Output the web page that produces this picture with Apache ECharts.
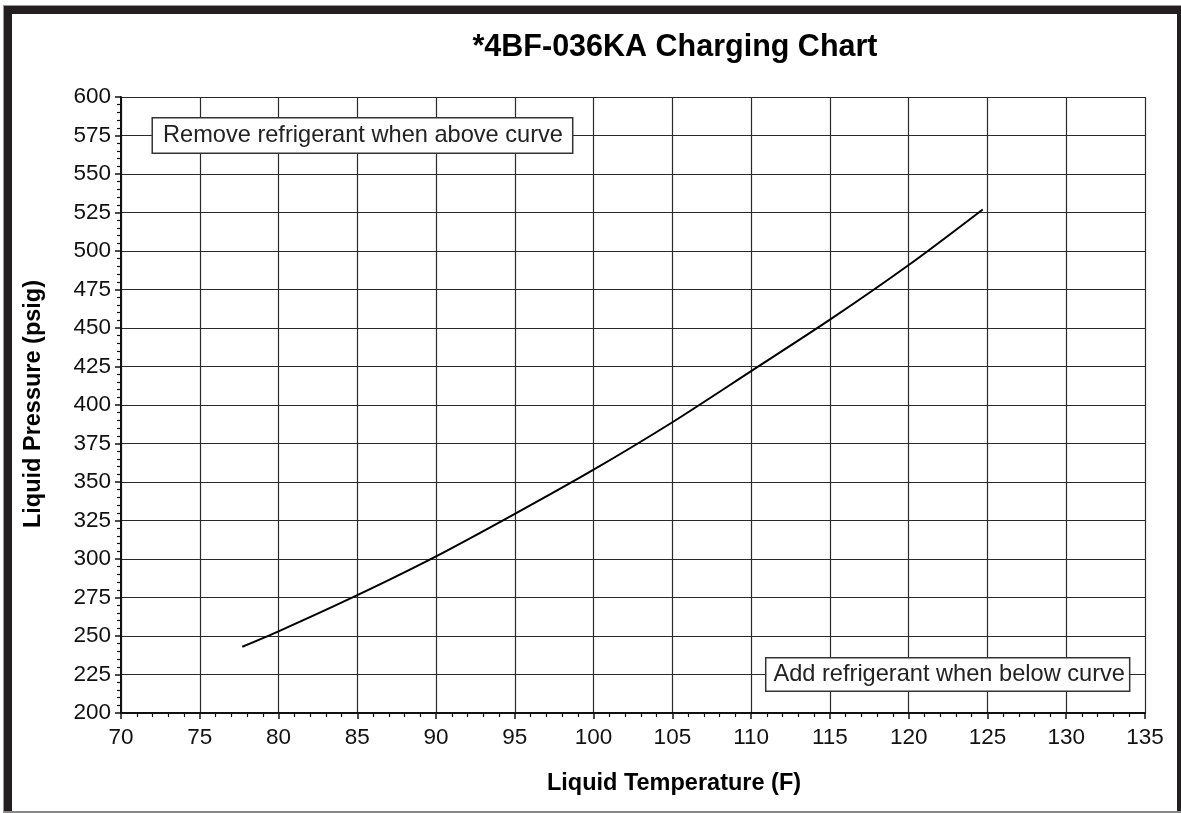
<!DOCTYPE html>
<html>
<head>
<meta charset="utf-8">
<script src="https://cdn.jsdelivr.net/npm/echarts@6/dist/echarts.min.js"></script>
<style>
html,body{margin:0;padding:0;background:#fff;}
#chart{width:1181px;height:813px;}
</style>
</head>
<body>
<div id="chart"></div>
<script>
const titleText = '*4BF-036KA Charging Chart';
const xAxisTitle = 'Liquid Temperature (F)';
const yAxisTitle = 'Liquid Pressure (psig)';
const noteAbove = 'Remove refrigerant when above curve';
const noteBelow = 'Add refrigerant when below curve';
const liquidTemp = [77.7, 80, 85, 90, 95, 100, 105, 110, 115, 120, 124.7];
const liquidPressure = [243, 253, 276.5, 301.7, 329.3, 358, 388.8, 422, 455.4, 490.9, 527];
const xRange = [70, 135, 5];
const yRange = [200, 600, 25];
const noteAboveAt = [72.03, 575];
const noteBelowAt = [133.98, 225];

const FONT = '"Liberation Sans", Arial, Helvetica, sans-serif';
const chart = echarts.init(document.getElementById('chart'), null, {renderer: 'canvas'});
const seriesData = liquidTemp.map((t, i) => [t, liquidPressure[i]]);

chart.setOption({
  backgroundColor: '#fff',
  animation: false,
  grid: {left: 121, right: 36, top: 97, bottom: 100, containLabel: false},
  xAxis: {
    type: 'value', min: xRange[0], max: xRange[1], interval: xRange[2],
    axisLine: {show: true, onZero: false, lineStyle: {color: '#111', width: 2}},
    axisTick: {show: true, inside: false, length: 6, lineStyle: {color: '#111', width: 1.5}},
    minorTick: {show: true, splitNumber: 5, length: 4, lineStyle: {color: '#111', width: 1.2}},
    splitLine: {show: true, lineStyle: {color: '#2a2a2a', width: 1.2}},
    axisLabel: {color: '#111', fontFamily: FONT, fontSize: 22.5, margin: 13}
  },
  yAxis: {
    type: 'value', min: yRange[0], max: yRange[1], interval: yRange[2],
    axisLine: {show: true, onZero: false, lineStyle: {color: '#111', width: 2}},
    axisTick: {show: true, inside: false, length: 6, lineStyle: {color: '#111', width: 1.5}},
    minorTick: {show: true, splitNumber: 5, length: 4, lineStyle: {color: '#111', width: 1.2}},
    splitLine: {show: true, lineStyle: {color: '#2a2a2a', width: 1.2}},
    axisLabel: {color: '#111', fontFamily: FONT, fontSize: 22.5, margin: 10}
  },
  series: [{
    type: 'line',
    data: seriesData,
    smooth: 0.3,
    showSymbol: false,
    symbol: 'none',
    lineStyle: {color: '#000', width: 2},
    z: 5
  }]
});

const pA = chart.convertToPixel({gridIndex: 0}, noteAboveAt);
const pB = chart.convertToPixel({gridIndex: 0}, noteBelowAt);

chart.setOption({
  graphic: [
    {type: 'rect', id: 'bl', shape: {x: 4, y: 6, width: 8, height: 807}, style: {fill: '#231f20'}, z: 100},
    {type: 'rect', id: 'bt', shape: {x: 4, y: 6, width: 1177, height: 8}, style: {fill: '#231f20'}, z: 100},
    {type: 'rect', id: 'br', shape: {x: 1177, y: 6, width: 4, height: 807}, style: {fill: '#231f20'}, z: 100},
    {type: 'rect', id: 'bb', shape: {x: 4, y: 811, width: 1177, height: 2}, style: {fill: '#888'}, z: 100},
    {type: 'rect', id: 'gl', shape: {x: 3, y: 5, width: 1, height: 808}, style: {fill: '#999'}, z: 100},
    {type: 'rect', id: 'gt', shape: {x: 3, y: 5, width: 1178, height: 1}, style: {fill: '#999'}, z: 100},
    {type: 'text', id: 'title', x: 675, y: 48, z: 50,
      style: {text: titleText, font: 'bold 30.5px ' + FONT, fill: '#000', align: 'center', verticalAlign: 'middle'}},
    {type: 'text', id: 'xt', x: 674, y: 784, z: 50,
      style: {text: xAxisTitle, font: 'bold 23.5px ' + FONT, fill: '#000', align: 'center', verticalAlign: 'middle'}},
    {type: 'text', id: 'yt', x: 34, y: 404, rotation: Math.PI / 2, z: 50,
      style: {text: yAxisTitle, font: 'bold 23.5px ' + FONT, fill: '#000', align: 'center', verticalAlign: 'middle'}},
    {type: 'text', id: 'na', x: pA[0], y: pA[1], z: 60,
      style: {text: noteAbove, font: '23.6px ' + FONT, fill: '#222', align: 'left', verticalAlign: 'middle',
        backgroundColor: '#fff', borderColor: '#333', borderWidth: 1.5, padding: [5, 9, 5, 10]}},
    {type: 'text', id: 'nb', x: pB[0], y: pB[1], z: 60,
      style: {text: noteBelow, font: '23.6px ' + FONT, fill: '#222', align: 'right', verticalAlign: 'middle',
        backgroundColor: '#fff', borderColor: '#333', borderWidth: 1.5, padding: [4, 4, 4, 7]}}
  ]
});
</script>
</body>
</html>
